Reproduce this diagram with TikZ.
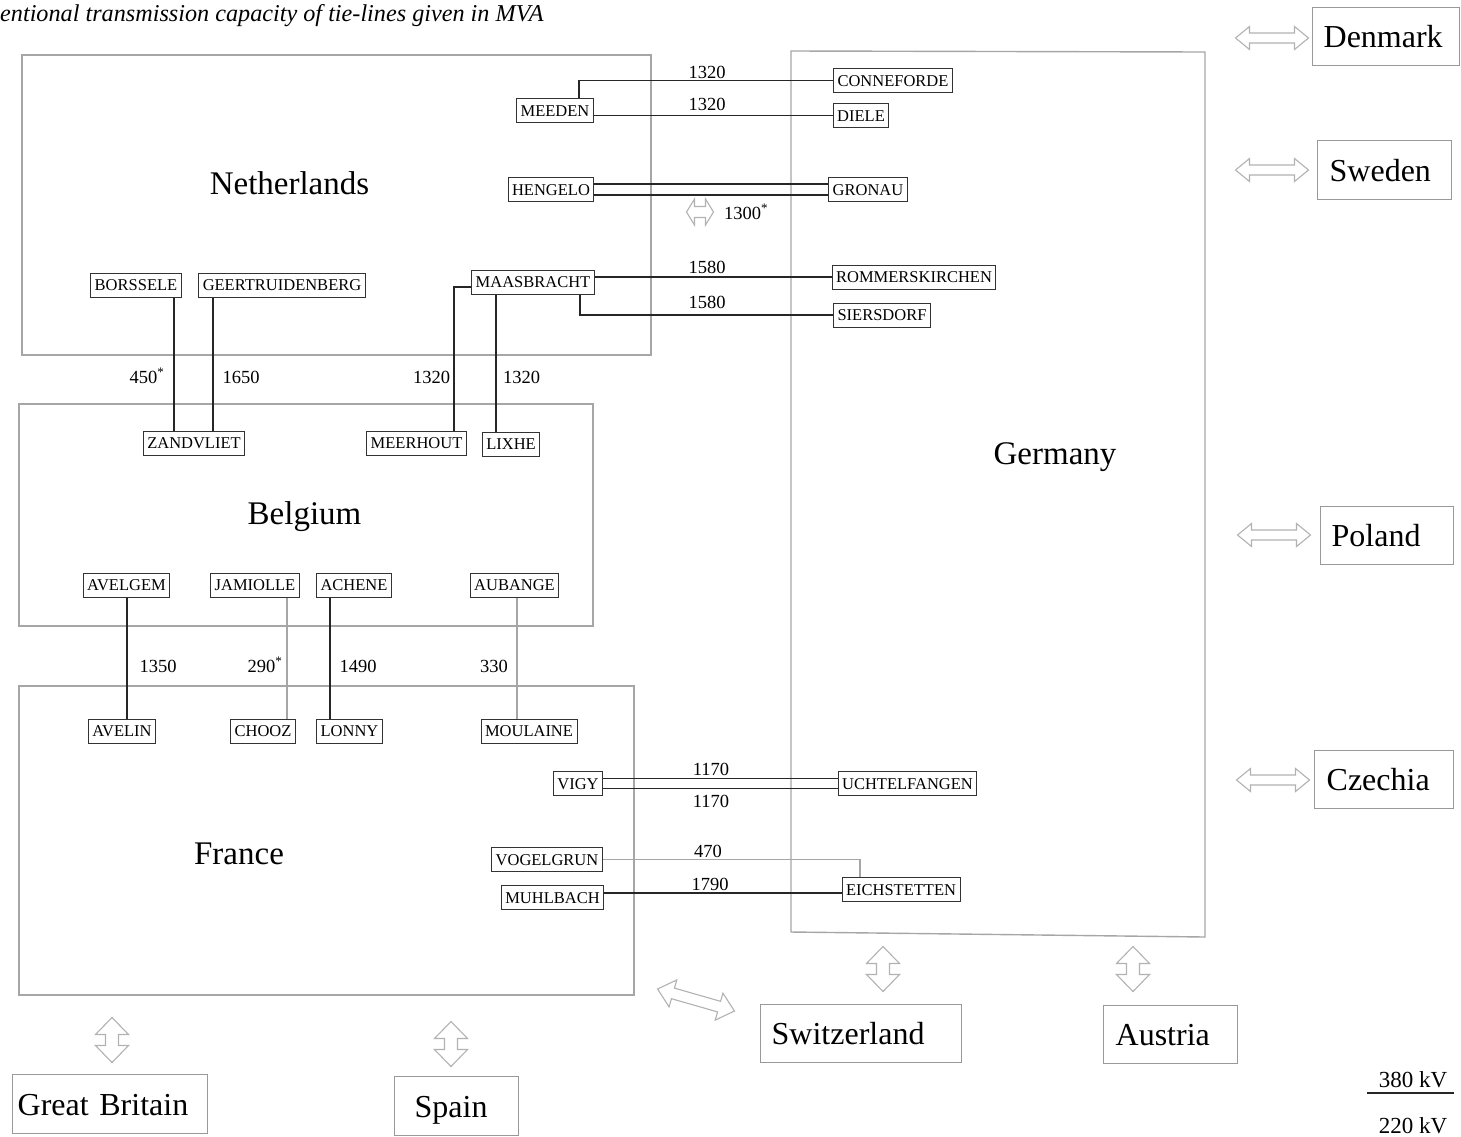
\documentclass[tikz,border=0pt]{standalone}
\usepackage{fontspec}
\setmainfont{Liberation Serif}
\newcommand{\dblarr}[7]{%
 \draw[arr, shift={(#1,#2)}, rotate=#3] ({-(#4)/2},0) -- ({-(#4)/2+#7},#6) -- ({-(#4)/2+#7},#5) -- ({(#4)/2-#7},#5) -- ({(#4)/2-#7},#6) -- ({(#4)/2},0) -- ({(#4)/2-#7},-#6) -- ({(#4)/2-#7},-#5) -- ({-(#4)/2+#7},-#5) -- ({-(#4)/2+#7},-#6) -- cycle;}
\tikzset{
 stn/.style={draw=black!80, line width=1pt, fill=white, inner xsep=4pt, inner ysep=0pt, minimum height=24pt, text height=11pt, text depth=0pt, font=\fontsize{16.5}{18}\selectfont},
 region/.style={draw=black!35, line width=1.4pt},
 cbox/.style={draw=black!40, line width=1.3pt, anchor=north west, align=left, text height=22pt, text depth=0pt, inner ysep=0pt, font=\fontsize{32}{36}\selectfont},
 rlabel/.style={font=\fontsize{33}{36}\selectfont, text height=22pt, text depth=0pt, inner sep=0pt},
 capl/.style={font=\fontsize{18.5}{20}\selectfont, inner sep=0pt, text height=12pt, text depth=0pt},
 leg/.style={font=\fontsize{23}{26}\selectfont, inner sep=0pt, text height=15pt, text depth=0pt},
 hv/.style={line width=1.7pt, draw=black!85},
 lv/.style={line width=1.2pt, draw=black!35},
 arr/.style={draw=black!30, line width=1.1pt, fill=white, line join=miter},
}
\begin{document}
\begin{tikzpicture}[x=1pt, y=-1pt]
\useasboundingbox (0,0) rectangle (1461,1136);
% title
\node[anchor=west, inner sep=0pt, font=\itshape\fontsize{24.2}{26}\selectfont, text height=16pt, text depth=0pt] (title) at (0,13) {entional transmission capacity of tie-lines given in MVA};
% regions
\draw[region] (22,55) rectangle (651,355);
\draw[region] (791,51) -- (1205,52) -- (1205,937) -- (791,932) -- cycle;
\draw[region] (19,404) rectangle (593,626);
\draw[region] (19,686) rectangle (634,995);
\node[rlabel] (nl) at (289.5,183) {Netherlands};
\node[rlabel] (de) at (1055,453) {Germany};
\node[rlabel] (be) at (304.5,513) {Belgium};
\node[rlabel] (fr) at (239,853) {France};
% stations
\node[stn] (meeden) at (555,110.5) {MEEDEN};
\node[stn] (conneforde) at (893,80.5) {CONNEFORDE};
\node[stn] (diele) at (861,115.5) {DIELE};
\node[stn] (hengelo) at (551,189.5) {HENGELO};
\node[stn] (gronau) at (868,189.5) {GRONAU};
\node[stn] (maasbracht) at (533,282) {MAASBRACHT};
\node[stn] (rommerskirchen) at (914,277) {ROMMERSKIRCHEN};
\node[stn] (siersdorf) at (882,315) {SIERSDORF};
\node[stn] (borssele) at (136,285) {BORSSELE};
\node[stn] (geertruidenberg) at (282,285) {GEERTRUIDENBERG};
\node[stn] (zandvliet) at (194,443) {ZANDVLIET};
\node[stn] (meerhout) at (416.5,443) {MEERHOUT};
\node[stn] (lixhe) at (511,444) {LIXHE};
\node[stn] (avelgem) at (126.5,585) {AVELGEM};
\node[stn] (jamiolle) at (255,585) {JAMIOLLE};
\node[stn] (achene) at (354,585) {ACHENE};
\node[stn] (aubange) at (514.5,585) {AUBANGE};
\node[stn] (avelin) at (122,731) {AVELIN};
\node[stn] (chooz) at (263,731) {CHOOZ};
\node[stn] (lonny) at (349.5,731) {LONNY};
\node[stn] (moulaine) at (529,731) {MOULAINE};
\node[stn] (vigy) at (578,783.5) {VIGY};
\node[stn] (uchtelfangen) at (907.5,783.5) {UCHTELFANGEN};
\node[stn] (vogelgrun) at (547,859.5) {VOGELGRUN};
\node[stn] (eichstetten) at (901,889.5) {EICHSTETTEN};
\node[stn] (muhlbach) at (552.5,897.5) {MUHLBACH};
% connectors
\draw[hv] ([xshift=24pt]meeden.north) |- (conneforde.west);
\draw[hv] (meeden.east |- diele.west) -- (diele.west);
\draw[hv] ([yshift=5.5pt]hengelo.east) -- ([yshift=5.5pt]gronau.west);
\draw[hv] ([yshift=-5.5pt]hengelo.east) -- ([yshift=-5.5pt]gronau.west);
\draw[hv] (maasbracht.east |- rommerskirchen.west) -- (rommerskirchen.west);
\draw[hv] ([xshift=47pt]maasbracht.south) |- (siersdorf.west);
\draw[hv] ([yshift=-5pt]maasbracht.west) -| ([xshift=37.5pt]meerhout.north);
\draw[hv] ([xshift=-15pt]lixhe.north) -- ([xshift=-15pt]lixhe.north |- maasbracht.south);
\draw[hv] ([xshift=38pt]borssele.south) -- ([xshift=38pt]borssele.south |- zandvliet.north);
\draw[hv] ([xshift=-69pt]geertruidenberg.south) -- ([xshift=-69pt]geertruidenberg.south |- zandvliet.north);
\draw[hv] ([xshift=0.5pt]avelgem.south) -- ([xshift=0.5pt]avelgem.south |- avelin.north);
\draw[lv] ([xshift=24pt]chooz.north) -- ([xshift=24pt]chooz.north |- jamiolle.south);
\draw[hv] ([xshift=-19.5pt]lonny.north) -- ([xshift=-19.5pt]lonny.north |- achene.south);
\draw[lv] ([xshift=2.5pt]aubange.south) -- ([xshift=2.5pt]aubange.south |- moulaine.north);
\draw[hv] ([yshift=5pt]vigy.east) -- ([yshift=5pt]uchtelfangen.west);
\draw[hv] ([yshift=-5pt]vigy.east) -- ([yshift=-5pt]uchtelfangen.west);
\draw[lv] (vogelgrun.east) -| ([xshift=-41pt]eichstetten.north);
\draw[hv] ([yshift=4.5pt]muhlbach.east) -- ([yshift=4.5pt]muhlbach.east -| eichstetten.west);
% capacity labels
\node[capl] (c1) at (707,72.5) {1320};
\node[capl] (c2) at (707,104) {1320};
\node[capl] (c3) at (746,213) {1300\textsuperscript{*}};
\node[capl] (c4) at (707,267) {1580};
\node[capl] (c5) at (707,302) {1580};
\node[capl] (c6) at (147,377) {450\textsuperscript{*}};
\node[capl] (c7) at (241,377) {1650};
\node[capl] (c8) at (431.5,377) {1320};
\node[capl] (c9) at (521.5,377) {1320};
\node[capl] (c10) at (158,666) {1350};
\node[capl] (c11) at (265,666) {290\textsuperscript{*}};
\node[capl] (c12) at (358,666) {1490};
\node[capl] (c13) at (494,666) {330};
\node[capl] (c14) at (711,769) {1170};
\node[capl] (c15) at (711,801) {1170};
\node[capl] (c16) at (708,851) {470};
\node[capl] (c17) at (710,884) {1790};
% neighbouring countries
\node[cbox, text width=125pt, inner xsep=11pt, minimum height=58pt] (dk) at (1312,7) {Denmark};
\node[cbox, text width=110pt, inner xsep=12pt, minimum height=59pt] (se) at (1317,140) {Sweden};
\node[cbox, text width=111pt, inner xsep=11pt, minimum height=58pt] (pl) at (1320,506) {Poland};
\node[cbox, text width=115pt, inner xsep=12pt, minimum height=58pt] (cz) at (1314,750) {Czechia};
\node[cbox, text width=179pt, inner xsep=11pt, minimum height=58pt] (ch) at (760,1004) {Switzerland};
\node[cbox, text width=110pt, inner xsep=12pt, minimum height=58pt] (at) at (1103,1005) {Austria};
\node[cbox, text width=185pt, inner xsep=5pt, minimum height=59pt] (gb) at (12,1074) {Great Britain};
\node[cbox, text width=84pt, inner xsep=20pt, minimum height=59pt] (es) at (394,1076) {Spain};
% exchange arrows
\dblarr{1272}{38}{0}{73}{5}{11.5}{14}
\dblarr{1272}{170}{0}{73}{5}{11.5}{14}
\dblarr{1274}{535}{0}{73}{5}{11.5}{14}
\dblarr{1273}{780}{0}{73}{5}{11.5}{14}
\dblarr{883}{969}{90}{45}{6.5}{16.5}{17}
\dblarr{1133}{969}{90}{45}{6.5}{16.5}{17}
\dblarr{112}{1040}{90}{45}{6.5}{16.5}{17}
\dblarr{451}{1044}{90}{45}{6.5}{16.5}{17}
\dblarr{696}{1000}{-16}{80}{5.5}{14}{16}
\dblarr{700}{212}{0}{27}{5.5}{13}{8}
% legend
\node[leg] (l380) at (1413,1080) {380 kV};
\coordinate (la) at (1367,1093);
\coordinate (lb) at (1454,1093);
\draw[hv] (la) -- (lb);
\node[leg] (l220) at (1413,1126) {220 kV};
\end{tikzpicture}
\end{document}
